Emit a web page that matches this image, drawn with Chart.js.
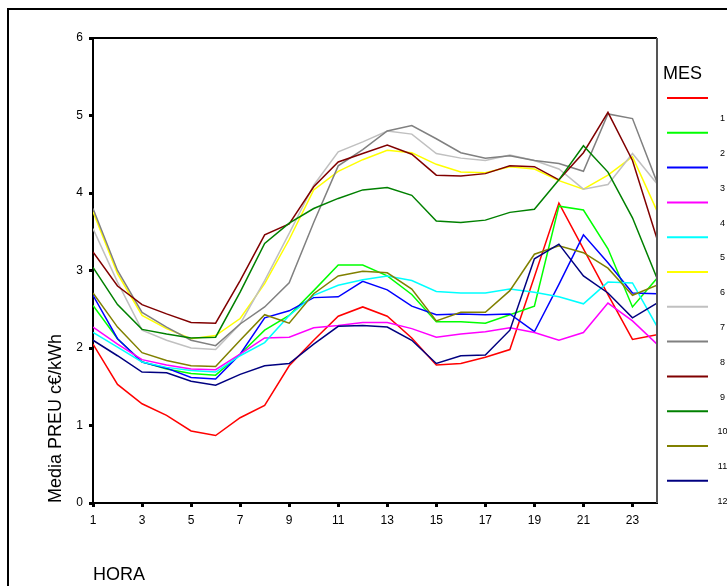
<!DOCTYPE html>
<html>
<head>
<meta charset="utf-8">
<title>Media PREU por hora y mes</title>
<script src="https://cdn.jsdelivr.net/npm/chart.js@4/dist/chart.umd.min.js"></script>
<style>
  html, body { margin: 0; padding: 0; background: #fff; }
  canvas { display: block; }
</style>
</head>
<body>
<canvas id="preuChart" width="727" height="586"></canvas>
<script>
// Data (hour 1..24, one array per month)
const HORAS = [1, 2, 3, 4, 5, 6, 7, 8, 9, 10, 11, 12, 13, 14, 15, 16, 17, 18, 19, 20, 21, 22, 23, 24];
const X_TICKS = [1, 3, 5, 7, 9, 11, 13, 15, 17, 19, 21, 23];
const Y_TICKS = [0, 1, 2, 3, 4, 5, 6];
const MESES = ['1', '2', '3', '4', '5', '6', '7', '8', '9', '10', '11', '12'];

const mes1 = [2.05, 1.53, 1.28, 1.13, 0.93, 0.87, 1.10, 1.26, 1.77, 2.10, 2.41, 2.53, 2.41, 2.13, 1.78, 1.80, 1.88, 1.98, 2.92, 3.87, 3.28, 2.69, 2.11, 2.17];
const mes2 = [2.55, 2.12, 1.82, 1.73, 1.67, 1.65, 1.92, 2.23, 2.42, 2.74, 3.07, 3.07, 2.93, 2.69, 2.34, 2.34, 2.32, 2.43, 2.54, 3.83, 3.78, 3.28, 2.53, 2.90];
const mes3 = [2.68, 2.12, 1.82, 1.74, 1.62, 1.60, 1.92, 2.39, 2.48, 2.65, 2.66, 2.86, 2.75, 2.54, 2.43, 2.44, 2.43, 2.44, 2.21, 2.82, 3.46, 3.10, 2.71, 2.70];
const mes4 = [2.27, 2.05, 1.85, 1.78, 1.73, 1.72, 1.92, 2.13, 2.14, 2.26, 2.29, 2.33, 2.33, 2.25, 2.14, 2.18, 2.21, 2.26, 2.20, 2.10, 2.20, 2.58, 2.35, 2.05];
const mes5 = [2.20, 2.01, 1.82, 1.75, 1.71, 1.69, 1.90, 2.07, 2.42, 2.68, 2.81, 2.88, 2.93, 2.87, 2.73, 2.71, 2.71, 2.76, 2.72, 2.66, 2.57, 2.85, 2.84, 2.28];
const mes6 = [3.76, 2.96, 2.42, 2.25, 2.12, 2.16, 2.38, 2.83, 3.40, 4.04, 4.28, 4.43, 4.55, 4.52, 4.37, 4.27, 4.26, 4.34, 4.31, 4.16, 4.05, 4.23, 4.47, 3.77];
const mes7 = [3.54, 2.85, 2.23, 2.10, 2.00, 1.98, 2.31, 2.87, 3.48, 4.10, 4.53, 4.66, 4.80, 4.76, 4.51, 4.45, 4.42, 4.49, 4.42, 4.31, 4.05, 4.11, 4.51, 4.12];
const mes8 = [3.80, 3.00, 2.46, 2.27, 2.10, 2.03, 2.31, 2.53, 2.84, 3.62, 4.35, 4.56, 4.80, 4.87, 4.70, 4.52, 4.45, 4.48, 4.42, 4.38, 4.28, 5.02, 4.96, 4.14];
const mes9 = [3.24, 2.80, 2.56, 2.44, 2.33, 2.32, 2.87, 3.46, 3.60, 4.08, 4.40, 4.51, 4.62, 4.50, 4.23, 4.22, 4.25, 4.35, 4.34, 4.17, 4.52, 5.04, 4.42, 3.41];
const mes10 = [3.04, 2.56, 2.24, 2.18, 2.13, 2.14, 2.72, 3.35, 3.61, 3.80, 3.93, 4.04, 4.07, 3.97, 3.64, 3.62, 3.65, 3.75, 3.79, 4.17, 4.61, 4.27, 3.68, 2.90];
const mes11 = [2.71, 2.27, 1.94, 1.84, 1.77, 1.76, 2.10, 2.43, 2.32, 2.70, 2.93, 2.99, 2.97, 2.76, 2.35, 2.46, 2.46, 2.74, 3.21, 3.32, 3.23, 3.03, 2.68, 2.81];
const mes12 = [2.10, 1.90, 1.69, 1.68, 1.57, 1.52, 1.66, 1.77, 1.80, 2.05, 2.28, 2.29, 2.27, 2.10, 1.80, 1.90, 1.91, 2.23, 3.15, 3.34, 2.93, 2.71, 2.39, 2.58];

const SERIES = [mes1, mes2, mes3, mes4, mes5, mes6, mes7, mes8, mes9, mes10, mes11, mes12];
const COLORS = ['#ff0000', '#00ff00', '#0000ff', '#ff00ff', '#00ffff', '#ffff00',
                '#c0c0c0', '#808080', '#800000', '#008000', '#808000', '#000080'];

const FONT = '"Liberation Sans", Arial, sans-serif';
Chart.defaults.font.family = FONT;
Chart.defaults.color = '#000';

// frame around the whole figure, top/right of plot box, and the SPSS style legend
const decorPlugin = {
    id: 'decor',
    afterDraw(chart) {
        const ctx = chart.ctx;
        const area = chart.chartArea;
        ctx.save();

        // outer frame (runs off the right and bottom edge)
        ctx.strokeStyle = '#000';
        ctx.lineWidth = 2;
        ctx.strokeRect(8, 9, 760, 620);

        // top and right sides of plot box
        ctx.beginPath();
        ctx.moveTo(area.left, area.top);
        ctx.lineTo(area.right, area.top);
        ctx.stroke();
        ctx.strokeStyle = '#555';
        ctx.beginPath();
        ctx.moveTo(area.right, area.top);
        ctx.lineTo(area.right, area.bottom);
        ctx.stroke();

        // legend
        ctx.fillStyle = '#000';
        ctx.font = '18px ' + FONT;
        ctx.textAlign = 'left';
        ctx.textBaseline = 'middle';
        ctx.fillText('MES', 663, 74);

        ctx.font = '9px ' + FONT;
        ctx.textAlign = 'center';
        chart.data.datasets.forEach((ds, i) => {
            const y = 98 + i * 34.8;
            ctx.strokeStyle = ds.borderColor;
            ctx.lineWidth = 2;
            ctx.beginPath();
            ctx.moveTo(667, y);
            ctx.lineTo(708, y);
            ctx.stroke();
            ctx.fillStyle = '#000';
            ctx.fillText(ds.label, 722.5, y + 20.7);
        });
        ctx.restore();
    }
};

const ctxPreu = document.getElementById('preuChart').getContext('2d');
const preuChart = new Chart(ctxPreu, {
    type: 'line',
    data: {
        datasets: SERIES.map((vals, i) => ({
            label: MESES[i],
            data: HORAS.map((h, j) => ({ x: h, y: vals[j] })),
            borderColor: COLORS[i],
            borderWidth: 1.5,
            pointRadius: 0,
            tension: 0,
            fill: false,
            order: SERIES.length - i
        }))
    },
    options: {
        responsive: false,
        animation: false,
        layout: {
            autoPadding: false,
            padding: { top: 38, right: 70, left: 0, bottom: 0 }
        },
        plugins: {
            legend: { display: false },
            tooltip: { enabled: false }
        },
        scales: {
            x: {
                type: 'linear',
                min: 1,
                max: 24,
                afterBuildTicks: s => { s.ticks = X_TICKS.map(v => ({ value: v })); },
                afterFit: s => { s.height = 83; },
                ticks: { font: { size: 12 }, padding: 6, color: '#000' },
                grid: { drawOnChartArea: false, tickLength: 4, tickWidth: 3, tickColor: '#000' },
                border: { color: '#000', width: 2 },
                title: {
                    display: true,
                    text: 'HORA',
                    align: 'start',
                    font: { size: 18 },
                    color: '#000',
                    padding: { top: 0, bottom: 0 }
                }
            },
            y: {
                min: 0,
                max: 6,
                afterBuildTicks: s => { s.ticks = Y_TICKS.map(v => ({ value: v })); },
                afterFit: s => { s.width = 93; },
                ticks: { font: { size: 12 }, padding: 6, color: '#000' },
                grid: { drawOnChartArea: false, tickLength: 4, tickWidth: 3, tickColor: '#000' },
                border: { color: '#000', width: 2 },
                title: {
                    display: true,
                    text: 'Media PREU c€/kWh',
                    align: 'start',
                    font: { size: 18 },
                    color: '#000',
                    padding: { top: 45, bottom: 0 }
                }
            }
        }
    },
    plugins: [decorPlugin]
});
</script>
</body>
</html>
